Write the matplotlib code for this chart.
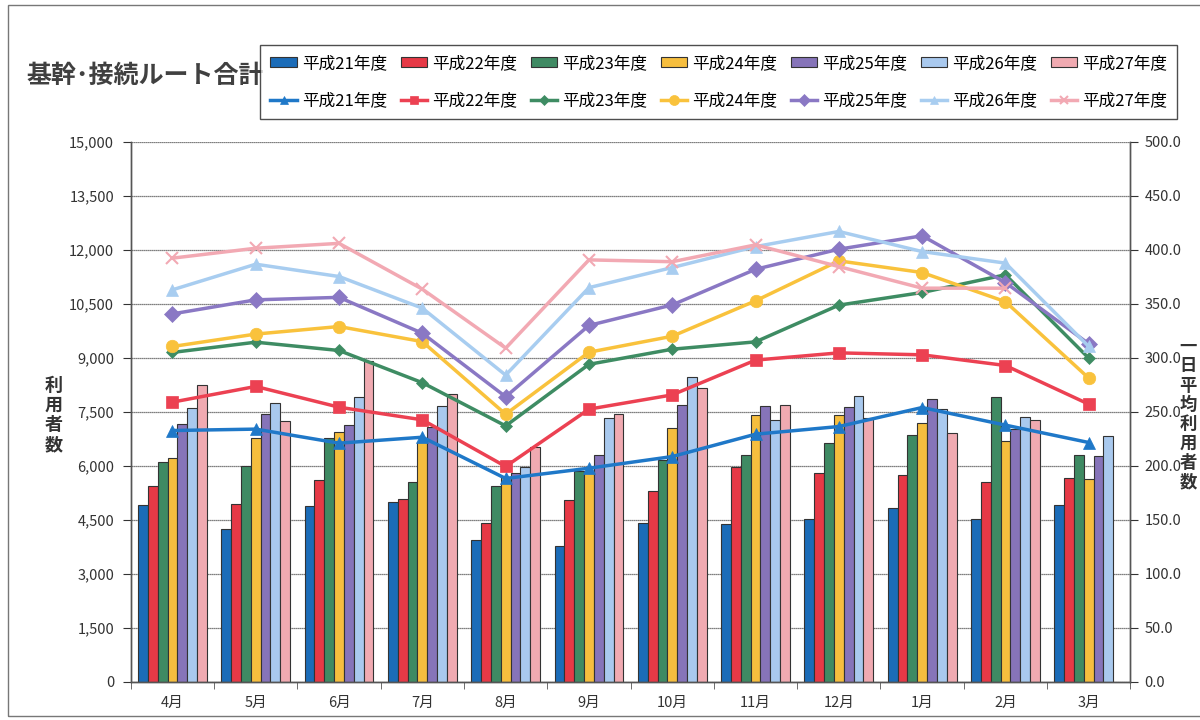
import matplotlib
matplotlib.use('Agg')
from matplotlib import pyplot as plt
from matplotlib.patches import Rectangle
import numpy as np

plt.rcParams['font.family'] = ['Noto Sans CJK JP', 'DejaVu Sans']

months = ['4月', '5月', '6月', '7月', '8月', '9月', '10月', '11月', '12月', '1月', '2月', '3月']
years = ['平成21年度', '平成22年度', '平成23年度', '平成24年度', '平成25年度', '平成26年度', '平成27年度']

# monthly users (left axis, bars)
users_h21 = [4900, 4240, 4890, 4990, 3940, 3760, 4400, 4380, 4520, 4840, 4530, 4900]
users_h22 = [5440, 4930, 5620, 5090, 4400, 5050, 5310, 5980, 5800, 5750, 5560, 5660]
users_h23 = [6100, 5990, 6760, 5550, 5450, 5870, 6170, 6300, 6630, 6860, 7920, 6300]
users_h24 = [6210, 6770, 6930, 6650, 5680, 5800, 7050, 7410, 7410, 7200, 6700, 5630]
users_h25 = [7170, 7440, 7140, 7090, 5800, 6290, 7690, 7650, 7630, 7850, 7020, 6260]
users_h26 = [7600, 7750, 7910, 7650, 5980, 7330, 8470, 7260, 7940, 7570, 7370, 6820]
users_h27 = [8240, 7240, 8900, 8000, 6510, 7430, 8160, 7690, 7330, 6910, 7280, np.nan]

# daily average users (right axis, lines)
daily_h21 = [232.7, 234.0, 221.0, 226.5, 188.3, 197.8, 208.6, 229.3, 236.4, 254.0, 237.7, 221.6]
daily_h22 = [259.0, 273.5, 254.3, 242.6, 199.4, 252.5, 265.7, 297.9, 304.6, 302.8, 292.9, 257.1]
daily_h23 = [305.0, 314.5, 306.8, 277.0, 237.0, 294.0, 308.0, 314.8, 348.8, 360.5, 376.9, 299.7]
daily_h24 = [310.5, 322.0, 329.0, 315.0, 247.8, 305.2, 320.0, 352.8, 389.8, 379.0, 352.0, 281.2]
daily_h25 = [340.7, 353.7, 356.0, 322.8, 264.0, 330.0, 349.0, 382.0, 400.6, 413.0, 369.7, 313.0]
daily_h26 = [363.0, 386.7, 375.3, 346.0, 284.0, 365.0, 383.6, 403.0, 417.0, 398.4, 387.7, 310.5]
daily_h27 = [392.3, 401.5, 406.0, 363.6, 309.0, 390.7, 389.0, 404.6, 384.5, 364.5, 364.5, np.nan]

bar_colors = ['#1b6cb8', '#e63946', '#3f8a63', '#f6be3e', '#8674b9', '#a9c9ee', '#f0aab1']
line_colors = ['#1f78c8', '#ec4152', '#3e8c63', '#f9c23c', '#8a78c4', '#a8cdf0', '#f2a9b3']
markers = ['^', 's', 'D', 'o', 'D', '^', 'x']
marker_sizes = [8, 8, 6, 9, 8, 8, 8]


def main():
    users = [users_h21, users_h22, users_h23, users_h24, users_h25, users_h26, users_h27]
    daily = [daily_h21, daily_h22, daily_h23, daily_h24, daily_h25, daily_h26, daily_h27]

    fig = plt.figure(figsize=(12, 7.2), dpi=100)
    ax = fig.add_axes([0.109, 0.053, 0.833, 0.75])
    ax2 = ax.twinx()

    x = np.arange(len(months))
    width = 0.118
    bars = []
    for i, vals in enumerate(users):
        b = ax.bar(x + (i - 3) * width, vals, width, color=bar_colors[i],
                   edgecolor='#333333', linewidth=0.8, label=years[i], zorder=2)
        bars.append(b)

    lines = []
    for i, vals in enumerate(daily):
        ln, = ax2.plot(x, vals, color=line_colors[i], linewidth=2.5, marker=markers[i],
                       markersize=marker_sizes[i], markeredgewidth=1.5 if markers[i] == 'x' else 0.5,
                       markeredgecolor=line_colors[i], label=years[i], zorder=3)
        lines.append(ln)

    ax.set_xlim(-0.5, len(months) - 0.5)
    ax.set_ylim(0, 15000)
    ax2.set_ylim(0, 500)
    ax.set_yticks(np.arange(0, 15001, 1500))
    ax.set_yticklabels(['{:,}'.format(v) for v in range(0, 15001, 1500)])
    ax2.set_yticks(np.arange(0, 501, 50))
    ax2.set_yticklabels(['{:.1f}'.format(v) for v in range(0, 501, 50)])
    ax.set_xticks(x)
    ax.set_xticklabels(months)
    ax.set_xticks(np.arange(-0.5, len(months), 1), minor=True)
    ax.tick_params(axis='x', which='major', length=0, pad=10, labelsize=10.5, colors='#333333')
    ax.tick_params(axis='x', which='minor', length=5, direction='out', color='#555555')
    ax.tick_params(axis='y', length=6, labelsize=10.5, colors='#333333', pad=6)
    ax2.tick_params(axis='y', length=6, labelsize=10.5, colors='#333333', pad=4)

    ax.grid(axis='y', color='#555555', linewidth=0.9, linestyle=(0, (1, 0.6)), zorder=0)
    ax.set_axisbelow(True)
    for a in (ax, ax2):
        a.spines['top'].set_visible(False)
        for s in ('left', 'right', 'bottom'):
            a.spines[s].set_color('#555555')
            a.spines[s].set_linewidth(1.0)

    # stacked vertical axis titles
    fig.text(0.045, 0.424, '\n'.join('利用者数'), ha='center', va='center',
             fontsize=13, fontweight='bold', color='#333333', linespacing=1.05)
    fig.text(0.990, 0.424, '\n'.join('一日平均利用者数'), ha='center', va='center',
             fontsize=12.5, fontweight='bold', color='#333333', linespacing=1.1)

    fig.text(0.022, 0.895, '基幹･接続ルート合計', ha='left', va='center',
             fontsize=18, fontweight='bold', color='#404040')

    handles, labels = [], []
    for b, ln, y in zip(bars, lines, years):
        handles += [b, ln]
        labels += [y, y]
    leg = fig.legend(handles, labels, ncol=7, loc='upper right', bbox_to_anchor=(0.988, 0.949),
                     fontsize=12, frameon=True, fancybox=False, edgecolor='#222222',
                     handlelength=1.6, handleheight=0.5, handletextpad=0.3, columnspacing=0.8,
                     labelspacing=1.2, borderpad=0.6, markerscale=0.8)
    leg.get_frame().set_linewidth(1.0)

    fig.patches.append(Rectangle((0.007, 0.005), 1.2, 0.988, transform=fig.transFigure,
                                 fill=False, edgecolor='#777777', linewidth=1.0))

    fig.savefig('out.png', dpi=100)
    print('Saved plot to out.png')


if __name__ == '__main__':
    main()
